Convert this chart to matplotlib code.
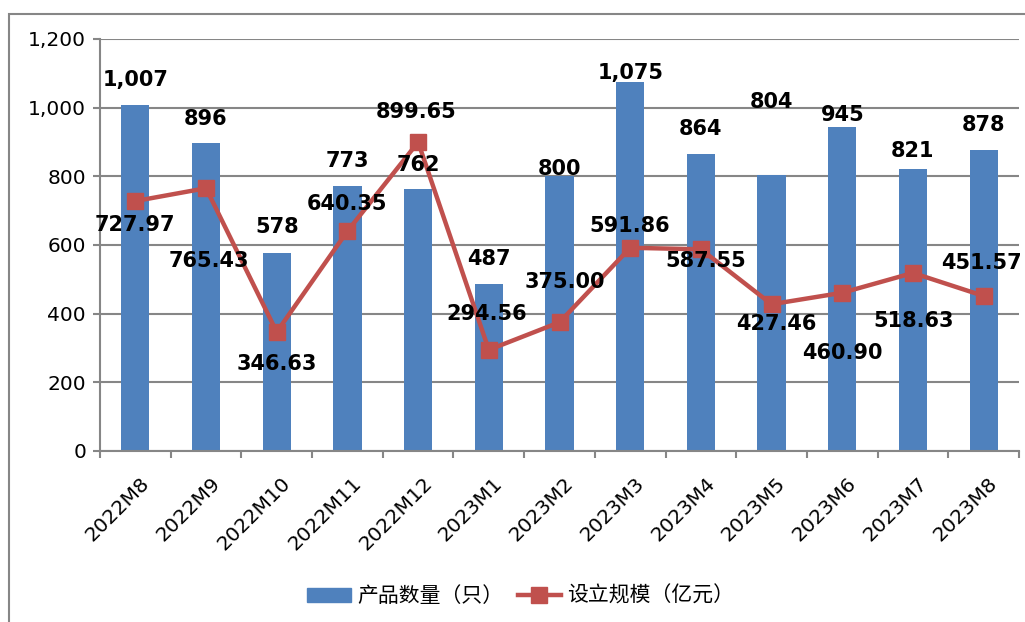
import numpy as np
import matplotlib
matplotlib.use('Agg')
import matplotlib.pyplot as plt
from matplotlib.patches import Rectangle
from matplotlib.transforms import ScaledTranslation

# --- данные ---
months = ['2022M8', '2022M9', '2022M10', '2022M11', '2022M12', '2023M1', '2023M2',
          '2023M3', '2023M4', '2023M5', '2023M6', '2023M7', '2023M8']
product_count = [1007, 896, 578, 773, 762, 487, 800, 1075, 864, 804, 945, 821, 878]
scale_yi = [727.97, 765.43, 346.63, 640.35, 899.65, 294.56, 375.00,
            591.86, 587.55, 427.46, 460.90, 518.63, 451.57]

bar_name = '产品数量（只）'
line_name = '设立规模（亿元）'

# смещения подписей (пиксели), как в исходной картинке
bar_lbl_dy = [25, 24, 26, 25, 24, 25, 7, 9, 25, 73, 12, 18, 25]
line_lbl_off = [(0, -24), (3, -73), (0, -32), (0, 27), (-2, 30), (-2, 36), (5, 40),
                (-1, 22), (5, -12), (5, -20), (0, -60), (1, -48), (-2, 33)]

BLUE = '#4F81BD'
RED = '#C0504D'
GRAY = '#868686'

fig = plt.figure(figsize=(10.25, 6.22), dpi=100)
ax = fig.add_axes([100 / 1025, 1 - 451 / 622, 919 / 1025, 412 / 622])

x = np.arange(len(months))
ax.bar(x, product_count, width=0.4, color=BLUE, zorder=2)
ax.plot(x, scale_yi, color=RED, lw=3.2, marker='s', markersize=11, zorder=3)

ax.set_xlim(-0.5, len(months) - 0.5)
ax.set_ylim(0, 1200)
ax.set_yticks(np.arange(0, 1201, 200))
ax.set_yticklabels([f'{v:,}' for v in range(0, 1201, 200)], fontsize=14.5)
ax.yaxis.grid(True, color=GRAY, lw=1.5, zorder=0)
ax.set_axisbelow(True)

for s in ['top', 'right']:
    ax.spines[s].set_visible(False)
for s in ['left', 'bottom']:
    ax.spines[s].set_color(GRAY)
    ax.spines[s].set_linewidth(1.5)

ax.tick_params(axis='y', length=5, width=1.5, color=GRAY, pad=5)
ax.set_xticks(np.arange(-0.5, len(months), 1.0))
ax.set_xticklabels([])
ax.tick_params(axis='x', which='major', length=5, width=1.5, color=GRAY)
ax.set_xticks(x, minor=True)
ax.set_xticklabels(months, minor=True, rotation=45, ha='right', va='center',
                   rotation_mode='anchor', fontsize=14.5)
ax.tick_params(axis='x', which='minor', length=0, pad=21)
for lbl in ax.get_xticklabels(minor=True):
    lbl.set_transform(lbl.get_transform() + ScaledTranslation(11 / 100, 0, fig.dpi_scale_trans))

# подписи столбцов
for xi, v, dy in zip(x, product_count, bar_lbl_dy):
    ax.annotate(f'{v:,}', (xi, v), xytext=(0, dy), textcoords='offset pixels',
                ha='center', va='center', fontsize=15, fontweight='bold', zorder=5)

# подписи линии
for xi, v, (dx, dy) in zip(x, scale_yi, line_lbl_off):
    ax.annotate(f'{v:.2f}', (xi, v), xytext=(dx, dy), textcoords='offset pixels',
                ha='center', va='center', fontsize=15, fontweight='bold', zorder=5)

# легенда
h_bar = plt.Rectangle((0, 0), 1, 1, color=BLUE)
h_line, = ax.plot([], [], color=RED, lw=3.2, marker='s', markersize=11)
fig.legend([h_bar, h_line], [bar_name, line_name], loc='center',
           bbox_to_anchor=(0.508, 1 - 596 / 622), ncol=2, frameon=False,
           prop={'family': ['Noto Sans CJK SC', 'DejaVu Sans'], 'size': 15},
           handlelength=2.1, handleheight=0.65, handletextpad=0.3, columnspacing=0.7)

# рамка вокруг диаграммы
fig.patches.append(Rectangle((9 / 1025, -0.1), 1.2, 1.1 - 14 / 622,
                             transform=fig.transFigure, fill=False,
                             edgecolor=GRAY, lw=1.5))

fig.savefig('out.png', dpi=100)
